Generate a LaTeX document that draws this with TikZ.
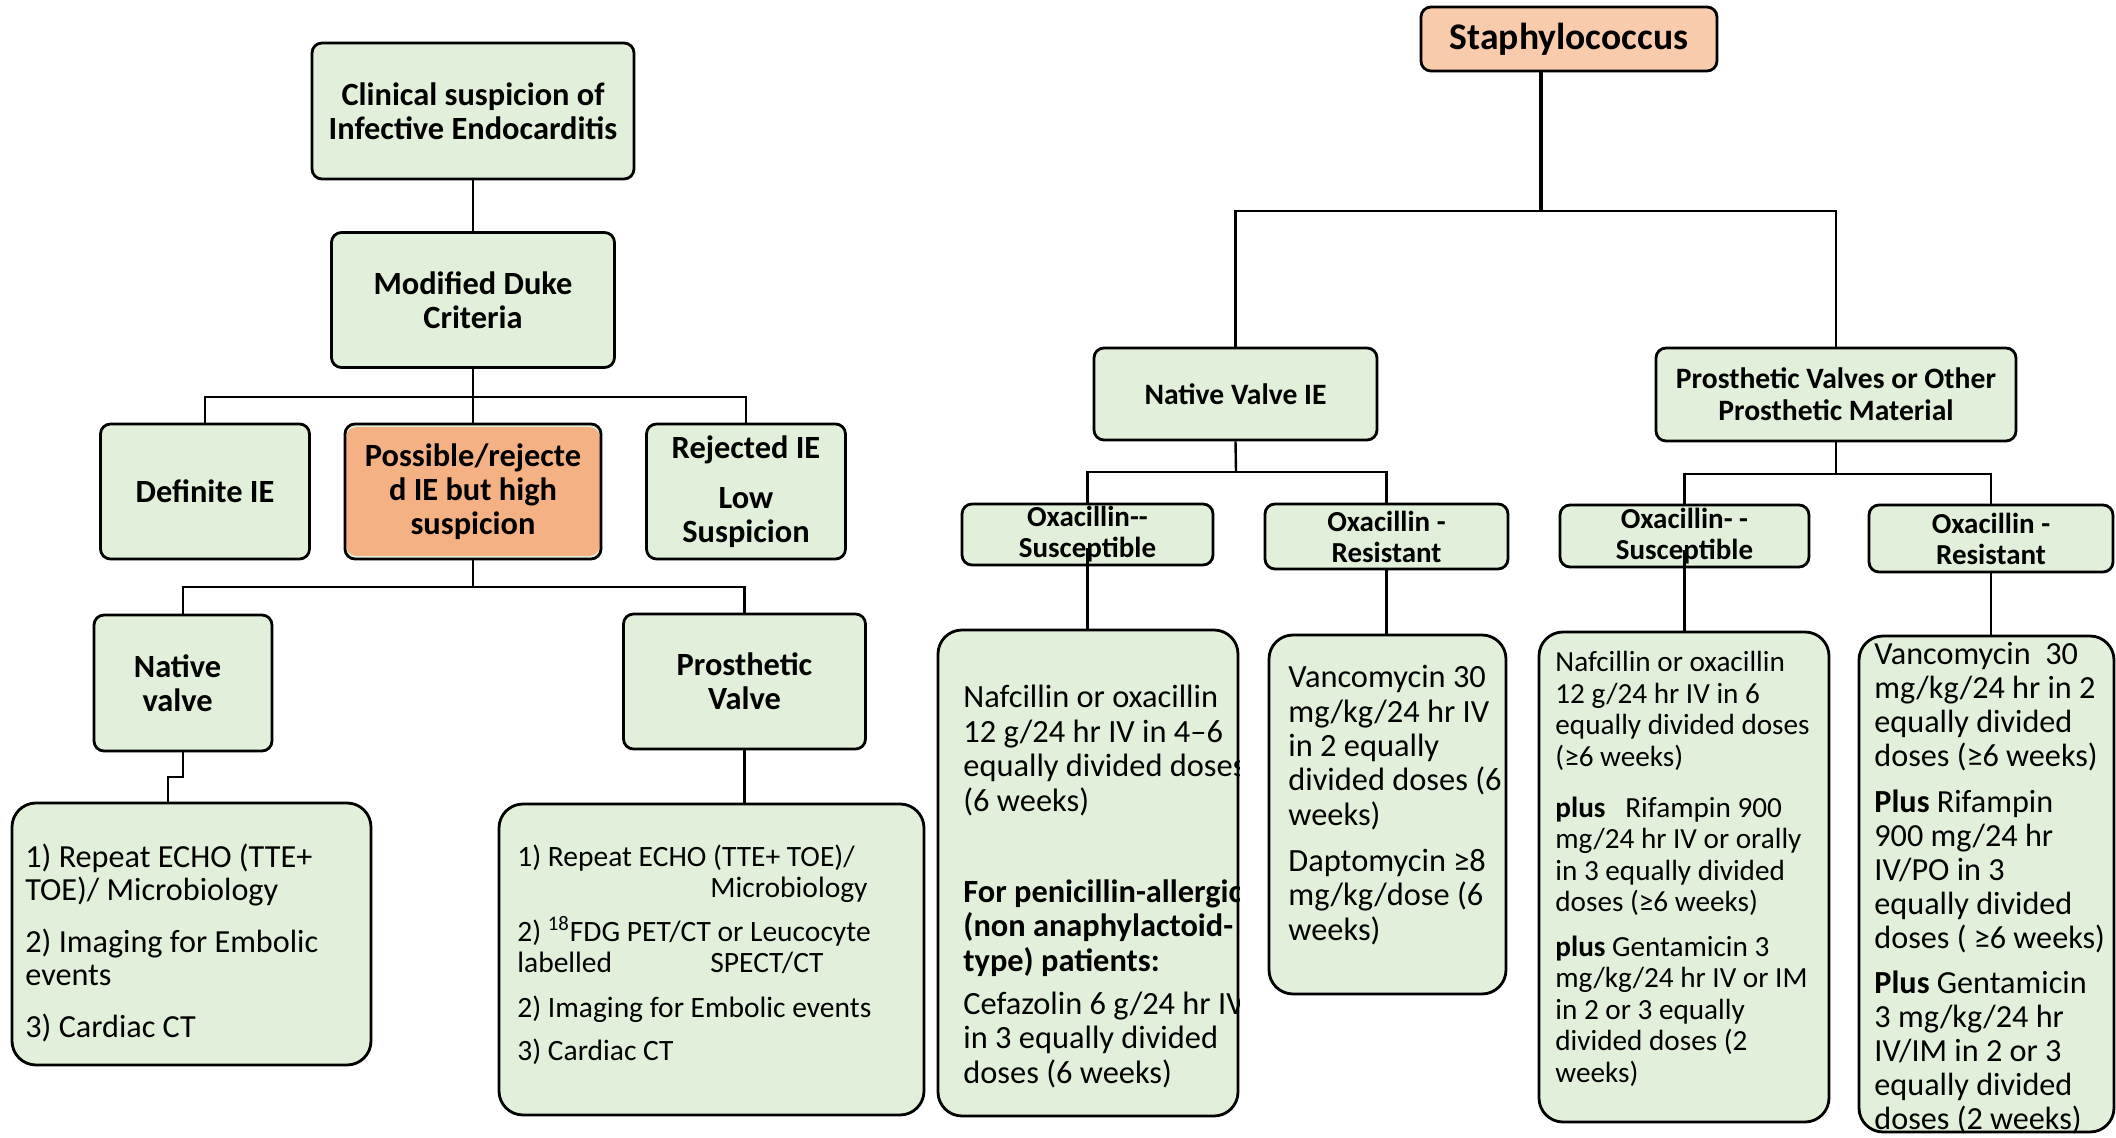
\documentclass[tikz,border=0pt]{standalone}
\usepackage{fontspec}
\setmainfont{Carlito}
\definecolor{boxgreen}{HTML}{E2EFDA}
\definecolor{possorange}{HTML}{F4B183}
\definecolor{staphpeach}{HTML}{F8CBAD}
\begin{document}
\begin{tikzpicture}[x=0.5pt,y=-0.5pt,
  sz/.style 2 args={minimum width=#1*0.5pt, minimum height=#2*0.5pt},
  box/.style={draw=black, line width=1.4pt, rounded corners=5pt, fill=boxgreen,
              inner sep=0pt, align=center},
  bigbox/.style={box, rounded corners=12pt},
  headtext/.style={font=\fontsize{16.2pt}{17pt}\selectfont\bfseries},
  subtext/.style={font=\fontsize{14.8pt}{16pt}\selectfont\bfseries},
  oxtext/.style={font=\fontsize{14.5pt}{15.5pt}\selectfont\bfseries},
  listtext/.style={inner sep=0pt, anchor=base west, align=left},
  link/.style={draw=black, line width=1.2pt},
]
\useasboundingbox (0,0) rectangle (2116,1138);

% ---------- diagnostic pathway ----------
\node[box, sz={322}{136}, headtext] (clin) at (473,111) {Clinical suspicion of\\Infective Endocarditis};
\node[box, sz={283}{135}, headtext] (duke) at (473,300) {Modified Duke\\Criteria};
\node[box, sz={209}{135}, headtext] (defie) at (205,491.5) {Definite IE};
\node[box, sz={256}{135}, headtext,
  path picture={\fill[possorange] ([shift={(0.6pt,-1.6pt)}]path picture bounding box.north west)
     rectangle ([shift={(-0.6pt,1.6pt)}]path picture bounding box.south east);}]
  (poss) at (473,491.5) {Possible/rejecte\\d IE but high\\suspicion};
\node[box, sz={199}{135}, headtext] (rej) at (746,491.5) {Rejected IE\\[8pt]Low\\Suspicion};
\node[box, sz={178}{136}, headtext] (nat) at (183,683) {Native\kern5.4pt\\valve\kern5.4pt};
\node[box, sz={242}{135}, headtext] (pros) at (744.5,681.5) {Prosthetic\\Valve};
\node[bigbox, sz={359}{262}] (natlist) at (191.5,934) {};
\node[bigbox, sz={425}{311}] (proslist) at (711.5,959.5) {};

% list texts are placed by the baseline of their last line
\node[listtext, font=\fontsize{16.1pt}{16.5pt}\selectfont] (natlisttext) at (25,1037)
  {1) Repeat ECHO (TTE+\\TOE)/ Microbiology\\[9.5pt]2) Imaging for Embolic\\events\\[9.5pt]3) Cardiac CT};
\node[listtext, font=\fontsize{14.75pt}{15.5pt}\selectfont] (proslisttext) at (517,1060)
  {1) Repeat ECHO (TTE+ TOE)/\\\hspace*{96.5pt}Microbiology\\[6.5pt]%
   2) \textsuperscript{18}FDG PET/CT or Leucocyte\\\makebox[96.5pt][l]{labelled}SPECT/CT\\[7pt]%
   2) Imaging for Embolic events\\[6pt]3) Cardiac CT};

% connectors of the diagnostic pathway
\coordinate (j1) at (473,397);
\coordinate (j2) at (473,587);
\coordinate (k1) at (168,777);
\draw[link] (clin.south) -- (duke.north);
\draw[link] (duke.south) -- (j1);
\draw[link] (defie.north) |- (j1) -| (rej.north);
\draw[link] (j1) -- (poss.north);
\draw[link] (poss.south) -- (j2);
\draw[link] (nat.north) |- (j2) -| (pros.north);
\draw[link] (nat.south) |- (k1) -- (k1 |- natlist.north);
\draw[link] (pros.south) -- (pros.south |- proslist.north);

% ---------- Staphylococcus treatment ----------
\node[box, sz={296}{64}, fill=staphpeach, font=\fontsize{18.8pt}{20pt}\selectfont\bfseries] (staph) at (1569,39) {Staphylococcus};
\node[box, sz={283}{92}, subtext] (nvie) at (1235.5,394) {Native Valve IE};
\node[box, sz={360}{93}, subtext] (pvie) at (1836,394.5) {Prosthetic Valves or Other\\Prosthetic Material};
\node[box, sz={251}{61}, oxtext] (os1) at (1087.5,534.5) {Oxacillin-{}-\\Susceptible};
\node[box, sz={243}{65}, oxtext] (or1) at (1386.5,536.5) {Oxacillin -\\Resistant};
\node[box, sz={249}{62}, oxtext] (os2) at (1684.5,536) {Oxacillin- -\\Susceptible};
\node[box, sz={244}{67}, oxtext] (or2) at (1991,538.5) {Oxacillin -\\Resistant};
\node[bigbox, sz={300}{486}] (nafA) at (1088,873) {};
\node[bigbox, sz={237}{359}] (vancA) at (1387.5,814.5) {};
\node[bigbox, sz={290}{490}] (nafB) at (1684,877) {};
\node[bigbox, sz={255}{496}] (vancB) at (1986.5,884) {};

\begin{scope}
  \clip (nafA.south west) rectangle (nafA.north east);
  \node[listtext, font=\fontsize{16.2pt}{17.25pt}\selectfont] (nafAtext) at (963,1083)
    {Nafcillin or oxacillin\\12 g/24 hr IV in 4–6\\equally divided doses\\(6 weeks)\\[28.25pt]%
     \textbf{For penicillin-allergic}\\\textbf{(non anaphylactoid-}\\\textbf{type) patients:}\\[4.25pt]%
     Cefazolin 6 g/24 hr IV\\in 3 equally divided\\doses (6 weeks)};
\end{scope}
\node[listtext, font=\fontsize{16.2pt}{17.15pt}\selectfont] (vancAtext) at (1288,940)
  {Vancomycin 30\\mg/kg/24 hr IV\\in 2 equally\\divided doses (6\\weeks)\\[6pt]%
   Daptomycin ≥8\\mg/kg/dose (6\\weeks)};
\node[listtext, font=\fontsize{14.6pt}{15.75pt}\selectfont] (nafBtext) at (1555,1082)
  {Nafcillin or oxacillin\\12 g/24 hr IV in 6\\equally divided doses\\(≥6 weeks)\\[9.75pt]%
   \textbf{plus}\ \ \ Rifampin 900\\mg/24 hr IV or orally\\in 3 equally divided\\doses (≥6 weeks)\\[6.5pt]%
   \textbf{plus} Gentamicin 3\\mg/kg/24 hr IV or IM\\in 2 or 3 equally\\divided doses (2\\weeks)};
\node[listtext, font=\fontsize{16.1pt}{17pt}\selectfont] (vancBtext) at (1874,1129)
  {Vancomycin\ \ 30\\mg/kg/24 hr in 2\\equally divided\\doses (≥6 weeks)\\[6pt]%
   \textbf{Plus} Rifampin\\900 mg/24 hr\\IV/PO in 3\\equally divided\\doses ( ≥6 weeks)\\[5.3pt]%
   \textbf{Plus} Gentamicin\\3 mg/kg/24 hr\\IV/IM in 2 or 3\\equally divided\\doses (2 weeks)};

% connectors of the treatment tree
\coordinate (s0) at ([xshift=-14pt]staph.south);
\coordinate (s1) at (1541,211);
\coordinate (j3) at (1236,472);
\coordinate (j4) at (1836,474);
\draw[link, line width=2.4pt] (s0) -- (s1);
\draw[link] (nvie.north) |- (s1) -| (pvie.north);
\draw[link] (nvie.south) -- (j3);
\draw[link] (os1.north) |- (j3) -| (or1.north);
\draw[link] (pvie.south) -- (j4);
\draw[link] (os2.north) |- (j4) -| (or2.north);
\draw[link] ([yshift=9pt]os1.south) -- (os1.south |- nafA.north);
\draw[link] (or1.south) -- (or1.south |- vancA.north);
\draw[link] ([yshift=9pt]os2.south) -- (os2.south |- nafB.north);
\draw[link] (or2.south) -- (or2.south |- vancB.north);
\end{tikzpicture}
\end{document}
